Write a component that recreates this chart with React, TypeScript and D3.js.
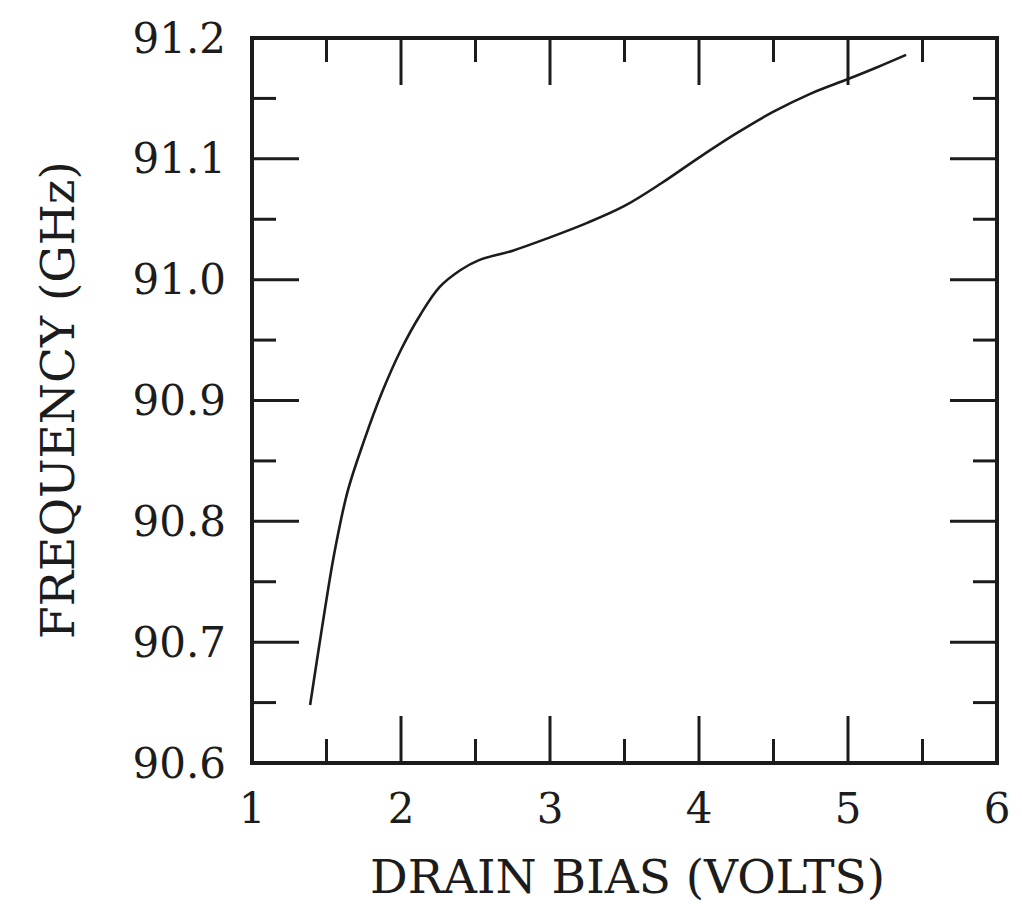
import React from 'react';
import * as d3 from 'd3';

// drain bias (V) vs. oscillation frequency (GHz)
const biasVolts = [1.39, 1.47, 1.55, 1.64, 1.75, 1.87, 2.0, 2.13, 2.26, 2.4, 2.52, 2.75, 3.0, 3.25, 3.5, 3.75, 4.0, 4.25, 4.5, 4.75, 5.0, 5.2, 5.39];
const freqGHz = [90.648, 90.712, 90.772, 90.824, 90.866, 90.906, 90.942, 90.971, 90.994, 91.008, 91.016, 91.024, 91.035, 91.047, 91.061, 91.08, 91.101, 91.121, 91.139, 91.154, 91.166, 91.176, 91.186];

const xMajor = [1, 2, 3, 4, 5, 6];
const xMinor = [1.5, 2.5, 3.5, 4.5, 5.5];
const yMajor = [90.6, 90.7, 90.8, 90.9, 91.0, 91.1, 91.2];
const yMinor = [90.65, 90.75, 90.85, 90.95, 91.05, 91.15];

const W = 1022;
const H = 904;
const left = 252;
const right = 997;
const top = 38;
const bottom = 763;
const majorLen = 47;
const minorLen = 24;
const ink = '#1c1c1c';
const font = '"DejaVu Serif", serif';

export default function App() {
	const x = d3.scaleLinear().domain([1, 6]).range([left, right]);
	const y = d3.scaleLinear().domain([90.6, 91.2]).range([bottom, top]);

	const pts: [number, number][] = biasVolts.map((v, i) => [v, freqGHz[i]]);
	const line = d3
		.line<[number, number]>()
		.x((d) => x(d[0]))
		.y((d) => y(d[1]))
		.curve(d3.curveCatmullRom.alpha(0.5));

	const xTicks = [
		...xMajor.slice(1, -1).map((v) => ({ v, len: majorLen })),
		...xMinor.map((v) => ({ v, len: minorLen })),
	];
	const yTicks = [
		...yMajor.slice(1, -1).map((v) => ({ v, len: majorLen })),
		...yMinor.map((v) => ({ v, len: minorLen })),
	];

	return (
		<svg
			width={W}
			height={H}
			style={{ position: 'absolute', left: 0, top: 0, background: '#fff' }}>
			{/* ticks, inward on all four sides */}
			<g stroke={ink} strokeWidth={3}>
				{xTicks.map((t) => (
					<g key={'x' + t.v}>
						<line x1={x(t.v)} x2={x(t.v)} y1={bottom} y2={bottom - t.len} />
						<line x1={x(t.v)} x2={x(t.v)} y1={top} y2={top + t.len} />
					</g>
				))}
				{yTicks.map((t) => (
					<g key={'y' + t.v}>
						<line x1={left} x2={left + t.len} y1={y(t.v)} y2={y(t.v)} />
						<line x1={right} x2={right - t.len} y1={y(t.v)} y2={y(t.v)} />
					</g>
				))}
			</g>

			<rect
				x={left}
				y={top}
				width={right - left}
				height={bottom - top}
				fill="none"
				stroke={ink}
				strokeWidth={4}
			/>

			<path d={line(pts) || ''} fill="none" stroke={ink} strokeWidth={2.6} />

			{/* tick labels */}
			<g fill={ink} fontFamily={font} fontSize={42}>
				{xMajor.map((v) => (
					<text key={'xl' + v} x={x(v)} y={823} textAnchor="middle">
						{v}
					</text>
				))}
				{yMajor.map((v) => (
					<text
						key={'yl' + v}
						x={226}
						y={y(v)}
						textAnchor="end"
						dominantBaseline="central">
						{v.toFixed(1)}
					</text>
				))}
			</g>

			<text
				x={(left + right) / 2 + 3}
				y={893}
				textAnchor="middle"
				fontFamily={font}
				fontSize={47}
				fill={ink}>
				DRAIN BIAS (VOLTS)
			</text>
			<text
				transform={`translate(74, ${400}) rotate(-90)`}
				textAnchor="middle"
				fontFamily={font}
				fontSize={47}
				fill={ink}>
				FREQUENCY (GHz)
			</text>
		</svg>
	);
}
